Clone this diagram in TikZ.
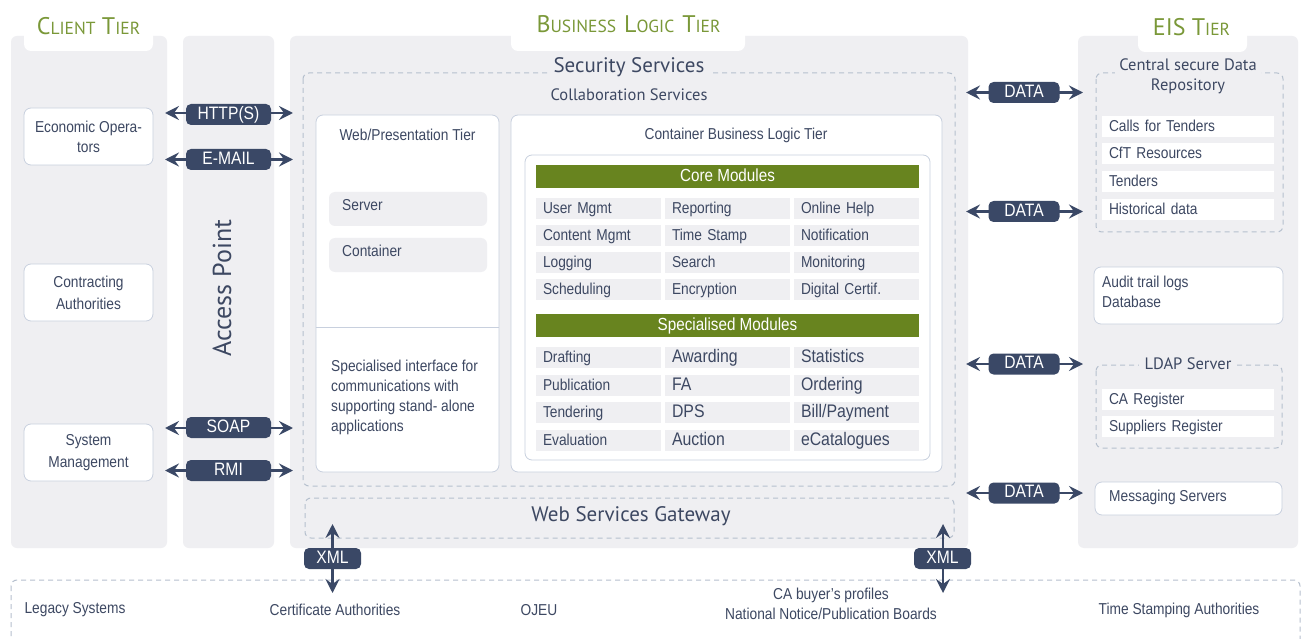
\documentclass[tikz,border=0pt]{standalone}
\usepackage{fontspec}
\setmainfont{Liberation Sans}[FakeStretch=0.87]
\newfontfamily\myr{PT Sans}
\usetikzlibrary{arrows.meta}
\definecolor{panel}{RGB}{239,239,242}
\definecolor{navy}{RGB}{58,72,102}
\definecolor{gbar}{RGB}{104,132,31}
\definecolor{tgreen}{RGB}{122,152,56}
\definecolor{txt}{RGB}{61,72,98}
\definecolor{bord}{RGB}{200,208,222}
\definecolor{dsh}{RGB}{182,192,206}
\newcommand\sm[1]{{\fontsize{17.5}{17.5}\selectfont #1}}
\newcommand\bodyf{\fontsize{15.8}{20}\selectfont}
\newcommand\bigcellf{\fontsize{18.2}{20}\selectfont}
\begin{document}
\begin{tikzpicture}[x=1pt,y=-1pt,
  every node/.style={text=txt},
  panelbox/.style={fill=panel, rounded corners=6pt, inner sep=0pt},
  tab/.style={fill=white, rounded corners=7pt, inner sep=0pt},
  tier/.style={font=\myr\fontsize{24}{24}\selectfont, text=tgreen, inner sep=0pt, anchor=base},
  wbox/.style={draw=bord, line width=0.8pt, fill=white, rounded corners=7pt, inner sep=0pt},
  tx/.style={font=\bodyf, inner sep=0pt},
  lab/.style={fill=navy, text=white, rounded corners=5pt, inner sep=0pt, minimum height=21pt, text height=12.5pt, text depth=3pt, font=\fontsize{18}{18}\selectfont},
  harr/.style={draw=navy, line width=2.6pt, {Stealth[length=14pt,width=14pt,inset=5pt]}-{Stealth[length=14pt,width=14pt,inset=5pt]}},
  dbox/.style={draw=dsh, line width=1pt, dash pattern=on 5pt off 4pt, rounded corners=6pt},
  cell/.style={fill=panel, minimum height=21pt, text width=111pt, text height=12.5pt, text depth=2.5pt, inner xsep=7pt, inner ysep=0pt, align=left, font=\bodyf},
  item/.style={fill=white, minimum height=21pt, text width=158pt, text height=12.5pt, text depth=2.5pt, inner xsep=7pt, inner ysep=0pt, align=left, font=\bodyf},
  gbarsty/.style={fill=gbar, text=white, minimum width=383pt, minimum height=23pt, text height=13pt, text depth=3pt, inner sep=0pt, font=\fontsize{17.5}{18}\selectfont}
]
\useasboundingbox[fill=white] (0,0) rectangle (1304,639);

% ---------- panels ----------
\node[panelbox, minimum width=156pt, minimum height=512pt] (cp) at (89,292) {};
\node[panelbox, minimum width=91pt, minimum height=512pt] (ap) at (228.5,292) {};
\node[panelbox, minimum width=678pt, minimum height=512pt] (bp) at (629,292) {};
\node[panelbox, minimum width=220pt, minimum height=512pt] (ep) at (1188,292) {};

% ---------- title tabs ----------
\node[tab, minimum width=129pt, minimum height=60pt] (ctab) at (88.5,21) {};
\node[tab, minimum width=234pt, minimum height=60pt] (btab) at (628,21) {};
\node[tab, minimum width=109pt, minimum height=60pt] (etab) at (1192.5,22) {};
\node[tier] (ctitle) at (88.5,35) {C\sm{LIENT} T\sm{IER}};
\node[tier] (btitle) at (628.5,33) {B\sm{USINESS}\hspace{8pt}L\sm{OGIC}\hspace{8pt}T\sm{IER}};
\node[tier] (etitle) at (1191.5,36) {EIS T\sm{IER}};

% ---------- access point ----------
\node[rotate=90, font=\myr\fontsize{26}{26}\selectfont, inner sep=0pt] (aptext) at (222,288) {Access Point};

% ---------- client tier ----------
\node[wbox, minimum width=129pt, minimum height=57pt, align=center, font=\bodyf] (eo) at (88.5,136.5) {Economic Opera-\\tors};
\node[wbox, minimum width=129pt, minimum height=57pt, align=center, font=\bodyf] (ca) at (88.5,292.5) {Contracting\\[2pt]Authorities};
\node[wbox, minimum width=129pt, minimum height=57pt, align=center, font=\bodyf] (sm) at (88.5,452.5) {System\\[2pt]Management};

% ---------- business logic tier ----------
\draw[dbox] (303,73) rectangle (955,486);
\node[font=\myr\fontsize{21}{21}\selectfont, fill=panel, inner xsep=6pt, inner ysep=1pt] (sec) at (629,67) {Security Services};
\node[font=\myr\fontsize{16.5}{16.5}\selectfont, inner sep=0pt] (col) at (629,95) {Collaboration Services};

\node[wbox, minimum width=183pt, minimum height=357pt] (wp) at (407.5,293.5) {};
\draw[draw=bord, line width=0.8pt] (wp.west |- 0,327) coordinate (wpdl) -- (wp.east |- 0,327) coordinate (wpdr);
\node[tx] (wpt) at (407.5,135) {Web/Presentation Tier};
\node[fill=panel, rounded corners=6pt, minimum width=158pt, minimum height=34pt, inner sep=0pt] (srv) at (408,209) {};
\node[tx, anchor=west] (srvt) at (342,205) {Server};
\node[fill=panel, rounded corners=6pt, minimum width=158pt, minimum height=34pt, inner sep=0pt] (cnt) at (408,255) {};
\node[tx, anchor=west] (cntt) at (342,251) {Container};
\node[tx, anchor=north west, align=left] (spi) at (331,360) {Specialised interface for\\communications with\\supporting stand- alone\\applications};

\node[wbox, minimum width=431pt, minimum height=357pt] (cb) at (726.5,293.5) {};
\node[tx] (cbt) at (736,135) {Container Business Logic Tier};
\node[wbox, minimum width=405pt, minimum height=305pt] (ib) at (727.5,307.5) {};
\node[gbarsty] (core) at (727.5,176.5) {Core Modules};
\node[gbarsty] (spec) at (727.5,325.5) {Specialised Modules};

\foreach \a/\b/\c [count=\i] in {User Mgmt/Reporting/Online Help, Content Mgmt/Time Stamp/Notification, Logging/Search/Monitoring, Scheduling/Encryption/Digital Certif.}{
  \pgfmathsetmacro\yy{208.5+27*(\i-1)}
  \node[cell] (c\i a) at (598.5,\yy) {\a};
  \node[cell] (c\i b) at (727.5,\yy) {\b};
  \node[cell] (c\i c) at (856.5,\yy) {\c};
}
\foreach \a/\b/\c/\yy [count=\i] in {Drafting/Awarding/Statistics/357.5, Publication/FA/Ordering/385.5, Tendering/DPS/Bill\slash Payment/412.5, Evaluation/Auction/eCatalogues/440}{
  \node[cell] (s\i a) at (598.5,\yy) {\a};
  \node[cell, font=\bigcellf] (s\i b) at (727.5,\yy) {\b};
  \node[cell, font=\bigcellf] (s\i c) at (856.5,\yy) {\c};
}

\draw[dbox] (305,498) rectangle (954,538);
\node[font=\myr\fontsize{21}{21}\selectfont, inner sep=0pt] (wsg) at (631,516) {Web Services Gateway};

% ---------- EIS tier ----------
\draw[dbox] (1096,73) rectangle (1283,232);
\node[font=\myr\fontsize{16.5}{20}\selectfont, fill=panel, inner xsep=4pt, inner ysep=1pt, align=center] (csdr) at (1188,76) {Central secure Data\\Repository};
\node[item] (i1) at (1188,126.5) {Calls for Tenders};
\node[item] (i2) at (1188,154) {CfT Resources};
\node[item] (i3) at (1188,181.5) {Tenders};
\node[item] (i4) at (1188,209.5) {Historical data};

\node[wbox, minimum width=189pt, minimum height=57pt] (audit) at (1188.5,295.5) {};
\node[tx, anchor=west, align=left] (auditt) at (1102,292) {Audit trail logs\\Database};

\draw[dbox] (1096,365) rectangle (1282,448);
\node[font=\myr\fontsize{16.5}{20}\selectfont, fill=panel, inner xsep=6pt, inner ysep=1pt] (ldap) at (1188,364) {LDAP Server};
\node[item] (l1) at (1188,399) {CA Register};
\node[item] (l2) at (1188,426) {Suppliers Register};

\node[wbox, minimum width=187pt, minimum height=33pt] (msg) at (1188.5,498.5) {};
\node[tx, anchor=west] (msgt) at (1109,497) {Messaging Servers};

% ---------- external systems ----------
\draw[dbox] (11,580) rectangle (1300,660);
\node[tx] (leg) at (75,610) {Legacy Systems};
\node[tx] (cert) at (335,610) {Certificate Authorities};
\node[tx] (ojeu) at (539,610) {OJEU};
\node[tx, align=center] (cabp) at (831,604) {CA buyer’s profiles\\National Notice/Publication Boards};
\node[tx] (tsa) at (1179,610) {Time Stamping Authorities};

% ---------- connectors ----------
\coordinate (hA) at (165,113);  \coordinate (hB) at (293,113);
\coordinate (mA) at (165,159.5); \coordinate (mB) at (293,159.5);
\coordinate (sA) at (165,428);  \coordinate (sB) at (293,428);
\coordinate (rA) at (165,470.5); \coordinate (rB) at (293,470.5);
\draw[harr] (hA) -- (hB);
\draw[harr] (mA) -- (mB);
\draw[harr] (sA) -- (sB);
\draw[harr] (rA) -- (rB);
\node[lab, minimum width=85pt] (http) at (228.5,114.5) {HTTP(S)};
\node[lab, minimum width=85pt] (mail) at (228.5,159.5) {E-MAIL};
\node[lab, minimum width=85pt] (soap) at (228.5,427.5) {SOAP};
\node[lab, minimum width=85pt] (rmi) at (228.5,470.5) {RMI};

\foreach \n/\yy in {1/92.5, 2/211.5, 3/364, 4/493}{
  \coordinate (dA\n) at (966,\yy); \coordinate (dB\n) at (1083,\yy);
  \draw[harr] (dA\n) -- (dB\n);
  \node[lab, minimum width=71pt] (data\n) at (1024,\yy) {DATA};
}

\coordinate (xA1) at (332.5,524); \coordinate (xB1) at (332.5,593);
\coordinate (xA2) at (943,524); \coordinate (xB2) at (943,593);
\draw[harr] (xA1) -- (xB1);
\draw[harr] (xA2) -- (xB2);
\node[lab, minimum width=57pt] (xml1) at (332.5,558.5) {XML};
\node[lab, minimum width=57pt] (xml2) at (942.5,558.5) {XML};
\end{tikzpicture}
\end{document}
